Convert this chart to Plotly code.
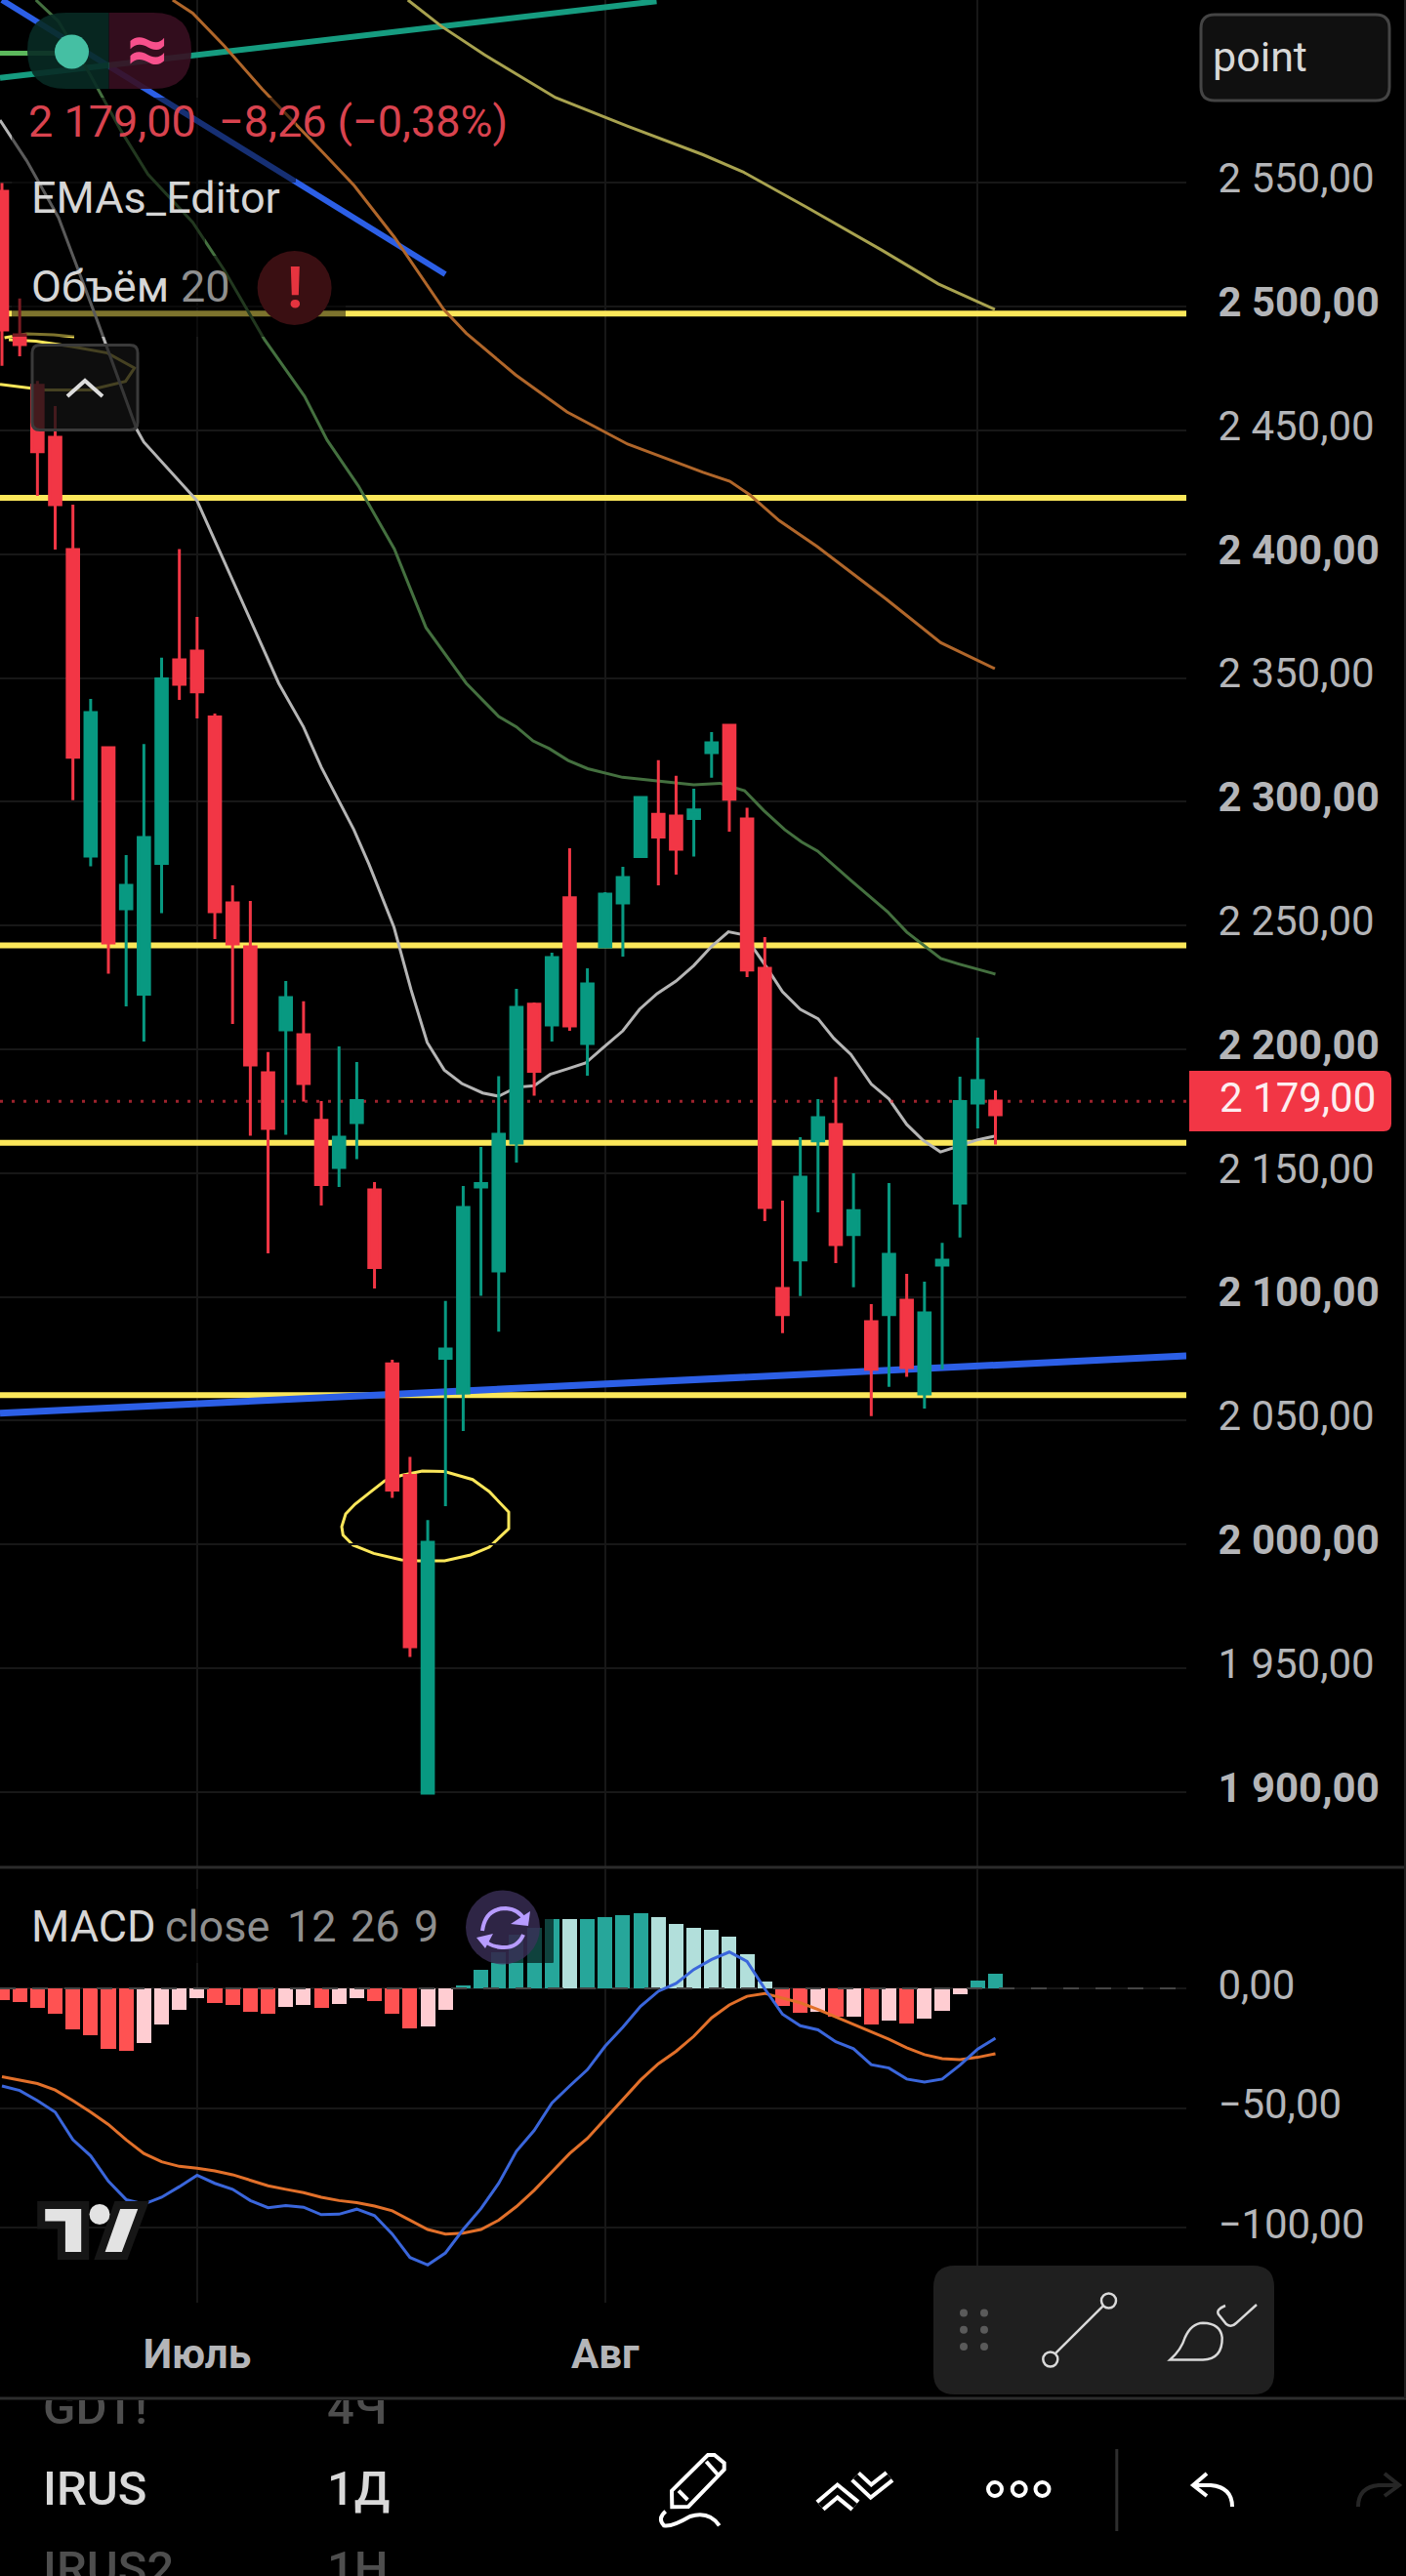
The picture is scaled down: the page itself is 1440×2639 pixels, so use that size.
import plotly.graph_objects as go

# ---------- data ----------
candle_index = list(range(57))
opens = [2546.6,2488.7,2468.2,2447.3,2401.9,2278.1,2321.9,2256.8,2222.3,2275.1,2357.4,2360.9,2334.3,2259.2,2241.4,2190.6,2207.9,2205.9,2171.3,2152.3,2170.5,2143.2,2073,2027.9,1899.6,2075.2,2061.2,2144.4,2110.5,2162.2,2218.3,2209.9,2261.2,2202.4,2241.4,2259.2,2277.9,2295,2294.3,2293.3,2319.9,2330.9,2293.1,2232.8,2103.4,2115,2163.1,2169.7,2125.2,2090,2092.9,2098.7,2060.8,2112.9,2137.9,2178.3,2179.1]
closes = [2490.6,2484.7,2441.4,2420,2318,2336.1,2243,2266.3,2285.6,2349.7,2347.5,2344.4,2255.6,2242.6,2193.7,2168.1,2220.9,2186.2,2145.4,2164.5,2179.3,2111.9,2022,1958.7,2000.9,2079,2136.1,2145.8,2165.7,2217,2191.2,2237.1,2209.5,2226.4,2262.7,2269.4,2301.8,2285.8,2280.9,2296.7,2323.8,2301.1,2232.1,2136.1,2092.9,2148.4,2172.4,2121.2,2134.9,2070.8,2117.2,2071.5,2093.6,2114.9,2178.9,2187.4,2173.6]
highs = [2550,2503.3,2470,2459.9,2420,2341.6,2321.9,2278.5,2323.3,2358.2,2402.1,2374.7,2335.7,2266.3,2260,2198.9,2227.6,2219.4,2179.1,2201.2,2194.9,2146.4,2074.6,2035.4,2009.9,2098.4,2144.8,2160.6,2189.2,2224.5,2219,2239.1,2281.3,2232.8,2263.5,2273.8,2301.8,2316.8,2310.5,2305.3,2328.2,2331.3,2297.6,2245.4,2138.9,2164.5,2179.9,2188.9,2149.9,2097.1,2146,2109.3,2106.2,2121.9,2189,2204.8,2183.5]
lows = [2476.1,2480,2423.6,2401.9,2300.7,2274,2230.6,2217.4,2203.2,2255,2341.2,2333.7,2244.6,2210.3,2165.1,2117.6,2165.5,2178.9,2136.9,2144.4,2155.7,2103.4,2018.8,1954.6,1899.2,2015.5,2045.9,2100.5,2086,2154.3,2181.3,2203.2,2207.5,2189.4,2241,2237.5,2277.9,2266.3,2270.6,2277.9,2309.7,2288,2229.2,2130.6,2085.4,2100.4,2134.2,2113.7,2103.9,2051.9,2063.7,2067.7,2054.9,2070.8,2124,2168.1,2161.6]

grey_x = [-0.11,1.4,3.19,5.32,7.6,8,11,13,15.6,17,18,19.84,20.7,22.1,23.06,23.97,24.93,25.92,27.1,28,29,30,30.9,31.9,32.9,33.9,35,35.94,36.93,38,39,40,40.95,41.85,43.1,44,45,46,46.9,47.85,49,50,51,51.9,52.9,53.95,54.95,56]
grey_y = [2575.4,2558.9,2536,2495.4,2450.4,2445.3,2421.6,2389.7,2347.9,2330.2,2314,2288.7,2274.6,2249.3,2224.1,2202.8,2191.7,2186.2,2182.4,2181.1,2184.7,2185.3,2189.9,2192.2,2194.5,2200.8,2207.5,2216.2,2222.5,2227.6,2233.9,2241.6,2247.5,2246.2,2233.2,2223.3,2216.2,2212.4,2204.4,2198,2186,2180,2169.7,2163.4,2158.6,2161,2163.4,2165]
green_x = [1.91,3.18,4.95,6.71,8.23,10.75,12.53,14.8,17.06,18.33,20.09,22.12,23.9,26.17,28,29,29.94,30.85,31.92,33.02,34.98,35.86,39,40.48,41.86,42.93,44.12,45.07,45.98,47.85,49.92,51,51.79,52.92,53.94,56]
green_y = [2623.9,2615.3,2594,2571.1,2553.5,2534.1,2514.8,2486.7,2463.8,2446.1,2427.6,2402.1,2370.4,2347.9,2334.5,2330.3,2324.6,2321.5,2316.7,2313.4,2309.9,2309.2,2306.9,2307.5,2304.5,2296.6,2288.8,2283.8,2280.1,2268.3,2255.6,2247.4,2243,2236.7,2234.5,2230.4]
orange_x = [9.62,10.75,12.53,14.67,18.08,19.85,22.12,24.9,26.17,28.95,31.85,35.27,39.52,41.03,42.16,43.81,45.96,49.86,52.92,55.97]
orange_y = [2623.9,2618.6,2605.4,2587.9,2562.4,2549,2528.1,2498.9,2489.3,2472.5,2457.5,2444.5,2433.1,2429.5,2424,2413.6,2403.1,2381.8,2364.3,2353.8]
olive_x = [22.88,24.77,27.19,31.2,35.28,39.52,41.77,45.33,49.63,52.78,55.97]
olive_y = [2623.9,2613.3,2601.8,2584.5,2572.9,2561.4,2554.5,2540.3,2522.7,2509.2,2498.9]

level_prices = [2497.2, 2422.8, 2242, 2162.3, 2060.3]
level_x = [-0.11, 66.76]
last_price = 2179
trend_blue_low_x = [-0.11, 66.76]
trend_blue_low_y = [2053, 2076.2]
trend_blue_high_x = [0, 24.99]
trend_blue_high_y = [2623.9, 2513.1]
trend_teal_x = [-0.11, 36.9]
trend_teal_y = [2592.4, 2623.4]
trend_lime_x = [-0.11, 3.9]
trend_lime_y = [2602.4, 2602.4]

macd_hist = [-4.8,-5.6,-8.1,-10.6,-17.3,-19.6,-25.2,-26,-22.9,-15,-8.8,-4,-6.2,-6.9,-9.8,-10.6,-7.9,-7.1,-8.1,-6.5,-4,-5.2,-10.6,-16.7,-15.8,-8.8,1.1,7.9,15,22.3,25.2,29,29,29,30,30.6,31.3,29.8,27,25.2,24.4,21.7,14.4,2.7,-7.5,-10.2,-9.8,-11.9,-11.7,-15,-13.5,-14.6,-12.5,-9.2,-2.3,3.3,6.2]
hist_shade = "RRRRRRRRLLLLRRRRLLRLLRRRLLTTTTTTLTTTTLLLLLLLRRLRLRLRLLLTT"
macd_line = [-40.8,-42.7,-46.9,-51.7,-63.3,-70,-80.6,-88.3,-90.2,-87.3,-82.9,-78.1,-81.5,-84,-88.7,-91.7,-90.8,-91.5,-94.6,-94.4,-92.3,-95,-102.7,-112.5,-115.6,-110.6,-100.8,-92.1,-81.5,-68.1,-59.4,-47.9,-40.8,-34,-24.2,-16.2,-7.5,-1.2,2.1,7.9,12.1,15.2,11.3,-0.2,-10.8,-15.6,-17.3,-22.3,-25.2,-31.9,-33.3,-37.9,-39.2,-37.9,-32.1,-25.4,-20.8]
signal_line = [-36.9,-38.3,-39.8,-42.5,-46.9,-51.7,-56.9,-63.3,-69,-72.5,-74.4,-75.2,-76.3,-77.9,-80.2,-82.5,-84,-85.4,-87.3,-88.7,-89.6,-91,-93,-96.9,-100.8,-102.7,-102.3,-100.8,-96.9,-91.2,-84.4,-76.7,-69,-62.7,-54.6,-46.5,-38.3,-31.5,-26.3,-20,-12.3,-6.9,-3.3,-2.1,-4,-6,-8.8,-11.9,-14.8,-18,-21.3,-24.8,-27.7,-29.4,-29.8,-28.8,-27.3]

price_ticks = [2550,2500,2450,2400,2350,2300,2250,2200,2150,2100,2050,2000,1950,1900]
price_tick_labels = ["2 550,00","<b>2 500,00</b>","2 450,00","<b>2 400,00</b>","2 350,00","<b>2 300,00</b>","2 250,00","<b>2 200,00</b>","2 150,00","<b>2 100,00</b>","2 050,00","<b>2 000,00</b>","1 950,00","<b>1 900,00</b>"]
macd_ticks = [0,-50,-100]
macd_tick_labels = ["0,00","−50,00","−100,00"]
time_ticks = [11,34,55]
time_tick_labels = ["<b>Июль</b>","<b>Авг</b>",""]

# ---------- page geometry ----------
W, H = 1440, 2639
PANE_R = 1215
MAIN_BOTTOM = 1913
MACD_TOP, MACD_BOTTOM = 1915, 2359
LIST_TOP = 2459
FONT = "Roboto"
GRID = "#171717"
LABEL = "#b4b5b8"
RED, GREEN = "#f23645", "#089981"
YELLOW = "#fbe75a"
PRICE_RANGE = [1869.6, 2623.9]
MACD_RANGE = [-131.4, 49.8]
X_RANGE = [-0.11, 66.76]


def fx(x):
    return x / W


def fy(y):
    return 1 - y / H


def path(cmds):
    """cmds: list like ('M',x,y), ('L',x,y), ('Q',x1,y1,x,y), ('Z',) in page pixels"""
    out = []
    for c in cmds:
        nums = c[1:]
        pts = []
        for i in range(0, len(nums), 2):
            pts.append(f"{fx(nums[i]):.5f},{fy(nums[i+1]):.5f}")
        out.append(c[0] + " ".join(pts))
    return " ".join(out)


def poly(points, close=False):
    cmds = [("M", *points[0])] + [("L", *p) for p in points[1:]]
    if close:
        cmds.append(("Z",))
    return path(cmds)


def rrect(x0, y0, x1, y1, rl, rr=None):
    rr = rl if rr is None else rr
    return path([("M", x0 + rl, y0), ("L", x1 - rr, y0), ("Q", x1, y0, x1, y0 + rr),
                 ("L", x1, y1 - rr), ("Q", x1, y1, x1 - rr, y1), ("L", x0 + rl, y1),
                 ("Q", x0, y1, x0, y1 - rl), ("L", x0, y0 + rl), ("Q", x0, y0, x0 + rl, y0), ("Z",)])


shapes = []


def add_path(d, color=None, width=0, fill=None, layer="above", opacity=1):
    s = dict(type="path", xref="paper", yref="paper", path=d, layer=layer, opacity=opacity,
             line=dict(color=color or "rgba(0,0,0,0)", width=width))
    if fill:
        s["fillcolor"] = fill
    shapes.append(s)


def circle(cx, cy, r, fill=None, color=None, width=0):
    shapes.append(dict(type="circle", xref="paper", yref="paper", x0=fx(cx - r), x1=fx(cx + r),
                       y0=fy(cy + r), y1=fy(cy - r), fillcolor=fill or "rgba(0,0,0,0)",
                       line=dict(color=color or "rgba(0,0,0,0)", width=width), layer="above"))


def hline(y, x0=0, x1=W, color="#2c2c2c", width=3):
    shapes.append(dict(type="line", xref="paper", yref="paper", x0=fx(x0), x1=fx(x1), y0=fy(y), y1=fy(y),
                       line=dict(color=color, width=width), layer="above"))


annotations = []


def text(x, y, s, size=45, color="#d1d4dc", anchor="left", weight=None):
    annotations.append(dict(xref="paper", yref="paper", x=fx(x), y=fy(y), text=s, showarrow=False,
                            xanchor=anchor, yanchor="middle", borderpad=0,
                            font=dict(family=FONT, size=size, color=color, weight=weight)))


# ---------- figure traces ----------
fig = go.Figure()


def line_trace(x, y, color, width, dash=None, xa="x", ya="y"):
    fig.add_trace(go.Scatter(x=x, y=y, mode="lines", xaxis=xa, yaxis=ya, hoverinfo="skip", showlegend=False,
                             line=dict(color=color, width=width, dash=dash)))


for p in level_prices:
    line_trace(level_x, [p, p], YELLOW, 6)
line_trace(trend_blue_low_x, trend_blue_low_y, "#2c5fe6", 7)
line_trace(trend_blue_high_x, trend_blue_high_y, "#2c5fe6", 6)
line_trace(trend_teal_x, trend_teal_y, "#169c80", 6)
line_trace(trend_lime_x, trend_lime_y, "#5cb85c", 5)
line_trace(olive_x, olive_y, "#a8a24f", 3)
line_trace(orange_x, orange_y, "#b0662a", 3)
line_trace(green_x, green_y, "#44703f", 3)
line_trace(grey_x, grey_y, "#b5b5b5", 3)
line_trace(level_x, [last_price, last_price], "rgba(242,54,69,0.65)", 3, dash="3px,9px")

fig.add_trace(go.Candlestick(
    x=candle_index, open=opens, high=highs, low=lows, close=closes,
    xaxis="x", yaxis="y2", showlegend=False, hoverinfo="skip", whiskerwidth=0,
    increasing=dict(line=dict(color=GREEN, width=3), fillcolor=GREEN),
    decreasing=dict(line=dict(color=RED, width=3), fillcolor=RED)))

shade_colors = {"R": "#ff5252", "L": "#ffcdd2", "T": "#26a69a"}
bar_colors = []
for v, s in zip(macd_hist, hist_shade):
    if s == "L" and v > 0:
        bar_colors.append("#b2dfdb")
    else:
        bar_colors.append(shade_colors[s])
fig.add_trace(go.Bar(x=candle_index, y=macd_hist, xaxis="x2", yaxis="y3", width=0.83, marker=dict(color=bar_colors, line=dict(width=0)),
                     showlegend=False, hoverinfo="skip"))
line_trace(level_x, [0, 0], "#454545", 2, dash="16px,17px", xa="x2", ya="y3")
line_trace(candle_index, signal_line, "#e2702a", 3, xa="x2", ya="y3")
line_trace(candle_index, macd_line, "#3a66db", 3, xa="x2", ya="y3")

# watchlist rows behind the toolbar: clipped by their own pane
list_labels = ["GDT!", "4Ч", "IRUS", "1Д", "IRUS2", "1Н"]
list_x = [44, 335, 44, 335, 44, 335]
list_y = [2471, 2471, 2554, 2554, 2636, 2636]
list_colors = ["#4e4e4e", "#4e4e4e", "#d9d9d9", "#d9d9d9", "#4e4e4e", "#4e4e4e"]
fig.add_trace(go.Scatter(x=list_x, y=list_y, text=list_labels, mode="text", textposition="middle right",
                         textfont=dict(family=FONT, size=49, color=list_colors, weight=500),
                         xaxis="x3", yaxis="y4", showlegend=False, hoverinfo="skip", cliponaxis=True))

# ---------- hand-drawn ellipses (behind the candles) ----------
big_ellipse = [(350,1564),(354,1551),(363.5,1541),(377,1530.4),(394,1517),(411,1511.5),(432.5,1507),(455.4,1507.6),(484,1515.7),(501,1528),(521,1549),(521,1566),(501,1585),(482,1593),(455.4,1599),(428.6,1599),(411,1598),(382.7,1591.4),(361.7,1583),(351.3,1572.5)]
add_path(poly(big_ellipse, close=True), color=YELLOW, width=3, layer="below")
add_path(poly([(4.6,346),(27.5,342),(55,343),(76,345)]), color=YELLOW, width=3, layer="below")
add_path(poly([(9,348),(36.7,349.6),(73.5,355),(110,361.6),(137.7,377),(128.6,390.6),(92,399.5),(46,399.5),(0,393.7)]), color=YELLOW, width=3, layer="below")

# ---------- legend overlays ----------
for x0, y0, x1, y1 in [(12,100,303,187),(12,187,210,262),(12,262,354,345)]:
    add_path(rrect(x0,y0,x1,y1,1), fill="rgba(0,0,0,0.5)")
add_path(rrect(30,1935,567,2011,1), fill="rgba(0,0,0,0.6)")

# top-left pills
add_path(path([("M",111.6,13),("L",68,13),("Q",28,13,28,52),("Q",28,91,68,91),("L",111.6,91),("Z",)]), fill="rgba(8,42,36,0.9)")
add_path(path([("M",111.6,13),("L",157,13),("Q",196,13,196,52),("Q",196,91,157,91),("L",111.6,91),("Z",)]), fill="rgba(55,14,32,0.9)")
circle(73.5, 53, 17.5, fill="#45bfa3")
text(151.5, 50, "<b>≈</b>", size=74, color="#f7508c", anchor="center")

# alert circle
circle(301.6, 295, 38, fill="#3a0f12")
text(301.6, 294, "<b>!</b>", size=60, color="#e6343f", anchor="center")

# collapse button
add_path(rrect(33,353.5,141,440.6,8), color="#3a3a3a", width=3, fill="rgba(18,18,18,0.78)")
add_path(poly([(69,406),(87,390),(105,406)]), color="#dddddd", width=4)

# point box
add_path(rrect(1230,15,1423,103,14), color="#444444", width=3, fill="#101010")
text(1241, 58, "point", size=43, color="#d8d8d8")

# last price tag
add_path(path([("M",1218,1097),("L",1417,1097),("Q",1425,1097,1425,1105),("L",1425,1151),("Q",1425,1159,1417,1159),("L",1218,1159),("Z",)]), fill=RED)
text(1248, 1124, "2 179,00", size=42, color="#fdeef0")

# legend texts
text(28, 125, "2 179,00", color="#d9434f")
text(223, 125, "−8,26 (−0,38%)", color="#d9434f")
text(31, 203, "EMAs_Editor", color="#d6d6d6")
text(31, 293, "Объём", color="#d6d6d6")
text(184, 293, "20", color="#8f8f8f")
text(31, 1973, "MACD", color="#d6d6d6")
text(168, 1973, "close", color="#8f8f8f")
text(293, 1973, "12", color="#8f8f8f")
text(358, 1973, "26", color="#8f8f8f")
text(423, 1973, "9", color="#8f8f8f")

# purple refresh badge
circle(515, 1974.5, 38, fill="rgba(62,50,92,0.75)")
PURPLE = "#b79cff"
add_path(path([("M",494,1978),("Q",497,1955,518,1955),("Q",532,1956,538,1968)]), color=PURPLE, width=4)
add_path(poly([(523,1971),(541,1973),(543,1958)], close=True), fill=PURPLE)
add_path(path([("M",536,1982),("Q",530,1996,514,1995),("Q",500,1994,494,1985)]), color=PURPLE, width=4)
add_path(poly([(488,1985),(505,1981),(497,1996)], close=True), fill=PURPLE)

# TradingView mark
add_path(poly([(42.2,2259),(87.2,2259),(87.2,2311),(62.9,2311),(62.9,2279.4),(42.2,2279.4)], close=True), color="#161616", width=8, fill="#e3e3e3")
add_path(poly([(120.3,2259),(147,2259),(127.6,2311),(102,2311)], close=True), color="#161616", width=8, fill="#e3e3e3")
circle(102, 2268.5, 10.5, fill="#e3e3e3")

# separators
hline(MAIN_BOTTOM)
hline(2457)
shapes.append(dict(type="line", xref="paper", yref="paper", x0=fx(1439), x1=fx(1439), y0=fy(0), y1=fy(2457),
                   line=dict(color="#1e1e1e", width=2), layer="above"))

# floating drawing toolbar
add_path(rrect(956,2321,1305,2453,22), fill="#1f1f1f")
for cx in (987, 1008):
    for cy in (2369.4, 2386.8, 2404):
        circle(cx, cy, 4, fill="#5a5a5a")
add_path(poly([(1081,2411),(1130,2362)]), color="#d9d9d9", width=2.5)
circle(1135.5, 2357, 7.5, color="#d9d9d9", width=2.5)
circle(1075.8, 2417, 7.5, color="#d9d9d9", width=2.5)
add_path(path([("M",1198.4,2417.4),("Q",1210,2407,1213.5,2395),("Q",1220,2380,1232,2379.7),("Q",1250,2380,1251.7,2394.8),("Q",1252,2417,1232,2417.4),("Z",)]), color="#d9d9d9", width=2.5)
add_path(path([("M",1255,2362),("Q",1245,2366,1248,2371),("L",1256,2381),("Q",1261,2385,1266,2380),("L",1287,2361)]), color="#d9d9d9", width=2.5)

# bottom toolbar icons
add_path(poly([(688.3,2568.3),(688,2551.7),(725,2515),(731.7,2515),(741.7,2523.3),(741.7,2530),(705,2568)], close=True), color="#ffffff", width=4)
add_path(poly([(695,2551.7),(704.3,2561)]), color="#ffffff", width=4)
add_path(poly([(723.3,2521.7),(735,2535)]), color="#ffffff", width=4)
add_path(path([("M",681.7,2572.7),("Q",673,2580,680,2587.3),("Q",688,2589,706.7,2578),("Q",726,2572,736.7,2587.3)]), color="#ffffff", width=4)
for zig in ([(840,2567),(857.7,2552),(876,2567)], [(876,2537),(892,2552),(911,2537)]):
    add_path(poly(zig), color="#ffffff", width=14)
    add_path(poly(zig), color="#000000", width=6)
for cx in (1019, 1043.7, 1067.5):
    circle(cx, 2550, 7, color="#ffffff", width=4)
shapes.append(dict(type="line", xref="paper", yref="paper", x0=fx(1143.8), x1=fx(1143.8), y0=fy(2509), y1=fy(2593),
                   line=dict(color="#2e2e2e", width=3), layer="above"))
add_path(path([("M",1236,2534),("L",1222,2546),("L",1236,2557)]), color="#ffffff", width=4)
add_path(path([("M",1222,2546),("L",1240,2546),("Q",1262,2548,1262,2568)]), color="#ffffff", width=4)
add_path(path([("M",1418,2534),("L",1433,2546),("L",1418,2557)]), color="#262626", width=4)
add_path(path([("M",1433,2546),("L",1412,2546),("Q",1391,2548,1391,2568)]), color="#262626", width=4)

# ---------- layout ----------
x_dom = [0, PANE_R / W]
common_x = dict(domain=x_dom, range=X_RANGE, showgrid=True, gridcolor=GRID, gridwidth=2, zeroline=False,
                tickmode="array", tickvals=time_ticks, ticktext=time_tick_labels, showline=False,
                rangeslider=dict(visible=False))
fig.update_layout(
    width=W, height=H, autosize=False, margin=dict(l=0, r=0, t=0, b=0, pad=0),
    paper_bgcolor="#000000", plot_bgcolor="#000000", showlegend=False, hovermode=False,
    font=dict(family=FONT, color=LABEL), bargap=0, boxgap=0.36, boxgroupgap=0,
    xaxis=dict(anchor="y", showticklabels=False, ticks="", **common_x),
    xaxis2=dict(anchor="y3", matches="x", showticklabels=True, ticks="outside", ticklen=16, tickwidth=1,
                tickcolor="rgba(0,0,0,0)", tickfont=dict(family=FONT, size=42, color=LABEL), **common_x),
    yaxis=dict(domain=[fy(MAIN_BOTTOM), 1], range=PRICE_RANGE, side="right", anchor="x", showgrid=True, gridcolor=GRID, gridwidth=2,
               zeroline=False, tickmode="array", tickvals=price_ticks, ticktext=price_tick_labels,
               ticks="outside", ticklen=23, tickcolor="rgba(0,0,0,0)", ticklabelshift=-5,
               tickfont=dict(family=FONT, size=42, color=LABEL)),
    yaxis2=dict(domain=[fy(MAIN_BOTTOM), 1], range=PRICE_RANGE, overlaying="y", side="right", anchor="x",
                showgrid=False, zeroline=False, showticklabels=False, ticks=""),
    yaxis3=dict(domain=[fy(MACD_BOTTOM), fy(MACD_TOP)], range=MACD_RANGE, side="right", anchor="x2", showgrid=True, gridcolor=GRID, gridwidth=2,
                zeroline=False, tickmode="array", tickvals=macd_ticks, ticktext=macd_tick_labels,
                ticks="outside", ticklen=23, tickcolor="rgba(0,0,0,0)", ticklabelshift=-4,
                tickfont=dict(family=FONT, size=42, color=LABEL)),
    xaxis3=dict(domain=[0, 1], range=[0, W], visible=False, anchor="y4"),
    yaxis4=dict(domain=[0, fy(LIST_TOP)], range=[H, LIST_TOP], visible=False, anchor="x3"),
    shapes=shapes, annotations=annotations,
)

fig.write_html("out.html", config={"displayModeBar": False},
               post_script="document.body.style.margin='0';document.documentElement.style.background='#000';")
